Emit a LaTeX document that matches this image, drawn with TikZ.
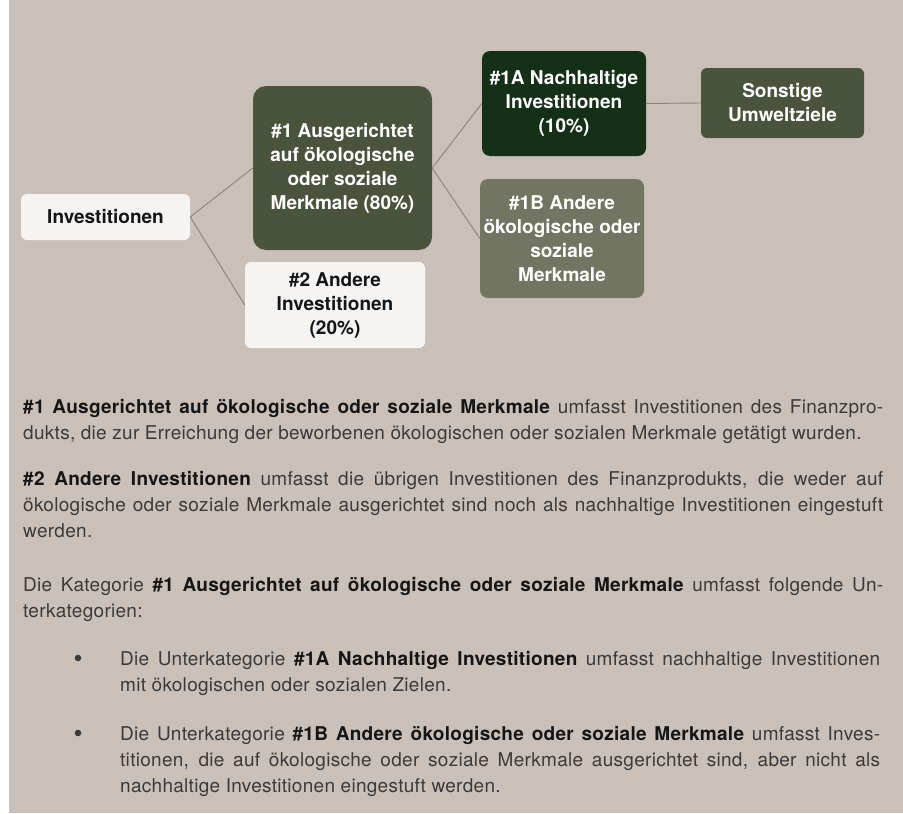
\documentclass[tikz,border=0pt]{standalone}
\usepackage{fontspec}
\setmainfont{TeX Gyre Heros}
\newfontfamily\bodyfont{TeX Gyre Heros}[LetterSpace=1.5]
\definecolor{panel}{HTML}{CAC0BA}
\definecolor{olive}{HTML}{4A533B}
\definecolor{forest}{HTML}{143118}
\definecolor{sage}{HTML}{727561}
\definecolor{paper}{HTML}{F5F4F2}
\definecolor{linkgray}{HTML}{8C8279}
\definecolor{bodygray}{HTML}{3A3A3A}
\definecolor{boldblack}{HTML}{151515}
\newcommand{\kat}[1]{{\bfseries\color{boldblack}#1}}

\begin{document}
\begin{tikzpicture}[x=1pt,y=-1pt,
  catbox/.style={inner sep=0pt, align=center, text=white,
    font=\fontsize{19}{24}\selectfont\bfseries},
  whitebox/.style={catbox, fill=paper, text=boldblack, rounded corners=6pt},
  link/.style={draw=linkgray, line width=0.9pt},
  para/.style={anchor=base west, inner sep=0pt, align=justify, text=bodygray,
    font=\bodyfont\fontsize{19}{26.3}\selectfont}]
\useasboundingbox (0,0) rectangle (903,814);
\fill[panel] (9,0) rectangle (903,813);

% tree
\node[whitebox, minimum width=169pt, minimum height=46pt] (inv) at (105.5,217) {Investitionen};
\node[catbox, fill=olive, rounded corners=13pt, minimum width=179pt, minimum height=164pt] (n1) at (342.5,168)
  {\#1 Ausgerichtet\\auf ökologische\\oder soziale\\Merkmale (80\%)};
\node[whitebox, minimum width=180pt, minimum height=86pt] (n2) at (335,305)
  {\#2 Andere\\Investitionen\\(20\%)};
\node[catbox, fill=forest, rounded corners=8pt, minimum width=164pt, minimum height=105pt] (n1a) at (564,103.5)
  {\#1A Nachhaltige\\Investitionen\\(10\%)};
\node[catbox, fill=sage, rounded corners=8pt, minimum width=164pt, minimum height=119pt] (n1b) at (562,238.5)
  {\#1B Andere\\ökologische oder\\soziale\\Merkmale};
\node[catbox, fill=olive, rounded corners=6pt, minimum width=163pt, minimum height=70pt] (umw) at (782.5,103)
  {Sonstige\\Umweltziele};

\draw[link] (inv.east) -- (n1.west);
\draw[link] (inv.east) -- (n2.west);
\draw[link] (n1.east) -- (n1a.west);
\draw[link] (n1.east) -- (n1b.west);
\draw[link] (n1a.east) -- (umw.west);

% explanations
\node[para, text width=860pt] (p1) at (23,413)
  {\kat{\#1 Ausgerichtet auf ökologische oder soziale Merkmale} umfasst Investitionen des Finanzpro-\linebreak
   dukts, die zur Erreichung der beworbenen ökologischen oder sozialen Merkmale getätigt wurden.};
\node[para, text width=860pt] (p2) at (23,485)
  {\kat{\#2 Andere Investitionen} umfasst die übrigen Investitionen des Finanzprodukts, die weder auf\linebreak
   ökologische oder soziale Merkmale ausgerichtet sind noch als nachhaltige Investitionen eingestuft\linebreak
   werden.};
\node[para, text width=860pt] (p3) at (23,591)
  {Die Kategorie \kat{\#1 Ausgerichtet auf ökologische oder soziale Merkmale} umfasst folgende Un-\linebreak
   terkategorien:};
\fill[bodygray] (78,658) circle (3.3pt);
\node[para, text width=760pt] (b1) at (120,665)
  {Die Unterkategorie \kat{\#1A Nachhaltige Investitionen} umfasst nachhaltige Investitionen\linebreak
   mit ökologischen oder sozialen Zielen.};
\fill[bodygray] (78,733) circle (3.3pt);
\node[para, text width=760pt] (b2) at (120,740)
  {Die Unterkategorie \kat{\#1B Andere ökologische oder soziale Merkmale} umfasst Inves-\linebreak
   titionen, die auf ökologische oder soziale Merkmale ausgerichtet sind, aber nicht als\linebreak
   nachhaltige Investitionen eingestuft werden.};
\end{tikzpicture}
\end{document}
